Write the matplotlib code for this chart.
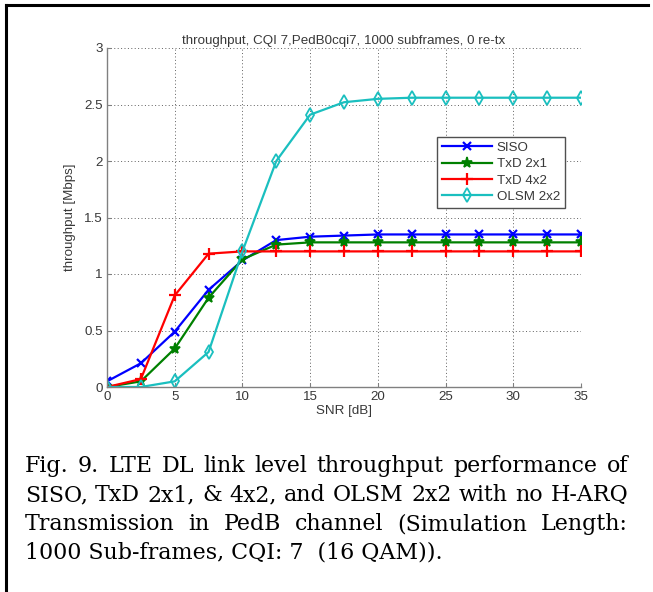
import matplotlib
matplotlib.use('Agg')
import matplotlib.pyplot as plt
from matplotlib.lines import Line2D

W, H = 653, 592

snr = [0, 2.5, 5, 7.5, 10, 12.5, 15, 17.5, 20, 22.5, 25, 27.5, 30, 32.5, 35]
siso = [0.05, 0.21, 0.49, 0.86, 1.12, 1.30, 1.33, 1.34, 1.35, 1.35, 1.35, 1.35, 1.35, 1.35, 1.35]
txd21 = [0.0, 0.05, 0.34, 0.79, 1.13, 1.26, 1.28, 1.28, 1.28, 1.28, 1.28, 1.28, 1.28, 1.28, 1.28]
txd42 = [0.0, 0.07, 0.81, 1.18, 1.20, 1.20, 1.20, 1.20, 1.20, 1.20, 1.20, 1.20, 1.20, 1.20, 1.20]
olsm = [0.0, 0.0, 0.05, 0.31, 1.20, 2.00, 2.41, 2.52, 2.55, 2.56, 2.56, 2.56, 2.56, 2.56, 2.56]

labels = ['SISO', 'TxD 2x1', 'TxD 4x2', 'OLSM 2x2']
title = 'throughput, CQI 7,PedB0cqi7, 1000 subframes, 0 re-tx'
caption = [
    'Fig. 9. LTE DL link level throughput performance of',
    'SISO, TxD 2x1, & 4x2, and OLSM 2x2 with no H-ARQ',
    'Transmission in PedB channel (Simulation Length:',
    '1000 Sub-frames, CQI: 7  (16 QAM)).',
]

sans = ['Liberation Sans', 'DejaVu Sans']
txt = '#383838'
gray = '#808080'
fs = 9.6

fig = plt.figure(figsize=(W / 100, H / 100), dpi=100)

# axes box in pixels: x 107..581, y 48..387
ax = fig.add_axes([107 / W, 1 - 387 / H, 474 / W, 339 / H])

ax.plot(snr, siso, color='blue', lw=1.6, marker='x', ms=6, mew=1.6)
ax.plot(snr, txd21, color=(0, 0.5, 0), lw=1.6, marker='*', ms=8, mew=1.2)
ax.plot(snr, txd42, color='red', lw=1.6, marker='+', ms=9, mew=1.6)
ax.plot(snr, olsm, color=(0.1, 0.75, 0.75), lw=1.6, marker='d', ms=7,
        mfc='none', mew=1.3)

ax.set_xlim(0, 35)
ax.set_ylim(0, 3)
ax.set_xticks(range(0, 36, 5))
ax.set_yticks([0, 0.5, 1, 1.5, 2, 2.5, 3])
ax.set_yticklabels(['0', '0.5', '1', '1.5', '2', '2.5', '3'])
ax.grid(True, color='#606060', linestyle=(0, (1, 2.5)), lw=0.7)
ax.set_axisbelow(True)
for s in ['top', 'right']:
    ax.spines[s].set_visible(False)
for s in ['left', 'bottom']:
    ax.spines[s].set_color(gray)
    ax.spines[s].set_linewidth(1.0)
ax.tick_params(direction='in', length=3, color=gray, labelsize=fs,
               labelcolor=txt, pad=3)
for lab in ax.get_xticklabels() + ax.get_yticklabels():
    lab.set_family(sans)

ax.set_title(title, fontsize=fs, color=txt, family=sans, pad=3)
ax.set_xlabel('SNR [dB]', fontsize=fs, color=txt, family=sans)
ax.set_ylabel('throughput [Mbps]', fontsize=fs, color=txt, family=sans)
ax.xaxis.set_label_coords(0.5, -0.052)
ax.yaxis.set_label_coords(-0.066, 0.5)

leg = ax.legend(labels, loc='upper left', bbox_to_anchor=(0.696, 0.737),
                borderaxespad=0, fancybox=False, framealpha=1,
                edgecolor='#505050', handlelength=3.8,
                handletextpad=0.35, labelspacing=0.3, borderpad=0.35,
                prop={'family': sans, 'size': fs})
leg.get_frame().set_linewidth(1.0)
for t in leg.get_texts():
    t.set_color(txt)

# frame lines at left and top
fig.add_artist(Line2D([6 / W, 6 / W], [0, 1 - 4.5 / H], color='black', lw=2.2))
fig.add_artist(Line2D([6 / W, 648 / W], [1 - 4.5 / H, 1 - 4.5 / H], color='black', lw=2.2))

# caption: size fitted so the (almost unstretched) second line fills the width
x0, x1 = 25, 628
renderer = fig.canvas.get_renderer()
serif = 'DejaVu Serif'
probe = fig.text(0, 0, caption[1], family=serif, fontsize=12)
w12 = probe.get_window_extent(renderer).width
probe.remove()
csize = 12 * (x1 - x0 - 4) / w12

baselines = [472, 501, 530, 559]
for i, line in enumerate(caption):
    yb = 1 - baselines[i] / H
    if i == len(caption) - 1:
        fig.text(x0 / W, yb, line, family=serif, fontsize=csize,
                 va='baseline', ha='left', color='black')
        continue
    words = line.split(' ')
    arts = [fig.text(0, yb, w, family=serif, fontsize=csize, va='baseline',
                     ha='left', color='black') for w in words]
    widths = [a.get_window_extent(renderer).width for a in arts]
    gap = (x1 - x0 - sum(widths)) / (len(words) - 1)
    x = x0
    for a, wd in zip(arts, widths):
        a.set_x(x / W)
        x += wd + gap

fig.savefig('out.png', dpi=100)
